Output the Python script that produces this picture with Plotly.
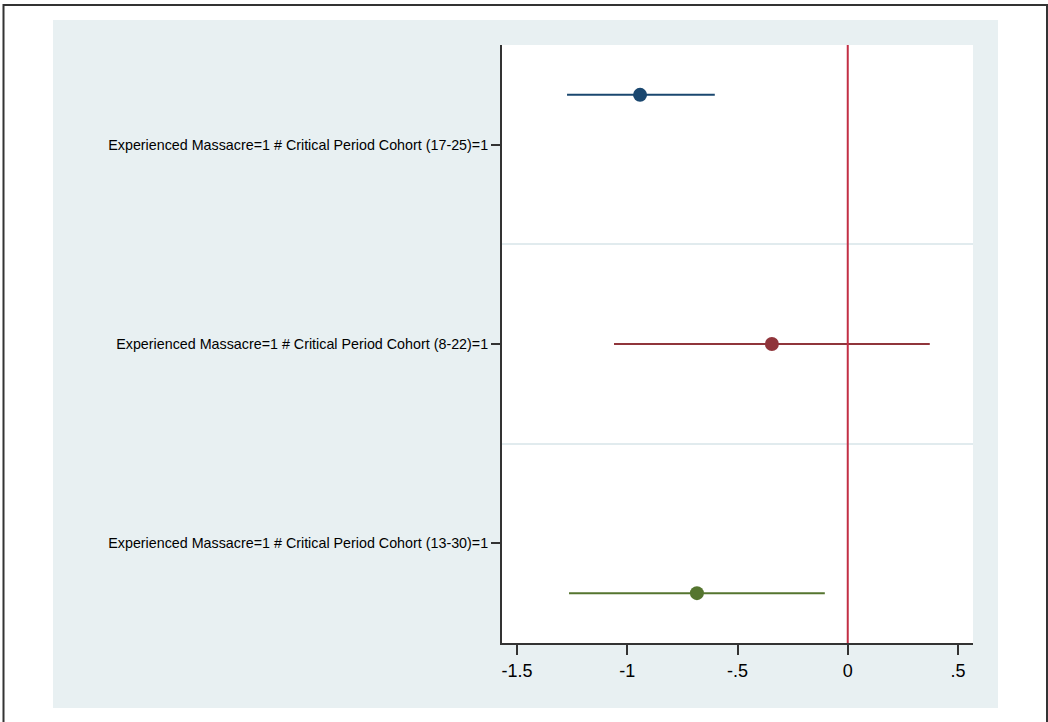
import plotly.graph_objects as go

labels = [
    "Experienced Massacre=1 # Critical Period Cohort (17-25)=1",
    "Experienced Massacre=1 # Critical Period Cohort (8-22)=1",
    "Experienced Massacre=1 # Critical Period Cohort (13-30)=1",
]
cat_pos = [1, 2, 3]
model_offsets = [-0.25, 0.0, 0.25]
estimates = [-0.942, -0.344, -0.684]
ci_low = [-1.273, -1.060, -1.264]
ci_high = [-0.603, 0.372, -0.104]
colors = ["#1a476f", "#90353b", "#55752f"]
x_ticks = [-1.5, -1, -0.5, 0, 0.5]
x_ticktext = ["-1.5", "-1", "-.5", "0", ".5"]

W, H = 1048, 722
L, R, T, B = 502, 973, 45, 643

def px(x):
    return (x - L) / (R - L)

def py(y):
    return (B - y) / (B - T)

fig = go.Figure()
for i in range(3):
    y = cat_pos[i] + model_offsets[i]
    fig.add_trace(go.Scatter(
        x=[estimates[i]], y=[y], mode="markers",
        marker=dict(size=14, color=colors[i]),
        error_x=dict(type="data", symmetric=False,
                     array=[ci_high[i] - estimates[i]],
                     arrayminus=[estimates[i] - ci_low[i]],
                     color=colors[i], thickness=2, width=0),
        showlegend=False,
    ))

shapes = [
    dict(type="rect", xref="paper", yref="paper", x0=px(53), x1=px(998), y0=py(708), y1=py(20),
         fillcolor="#e8f0f2", line=dict(width=0), layer="below"),
    dict(type="rect", xref="paper", yref="paper", x0=0, x1=1, y0=0, y1=1,
         fillcolor="white", line=dict(width=0), layer="below"),
    dict(type="line", xref="x", yref="paper", x0=0, x1=0, y0=0, y1=1,
         line=dict(color="#c22f45", width=2), layer="above"),
    dict(type="rect", xref="paper", yref="paper", x0=px(3.5), x1=px(1047), y0=py(727), y1=py(5),
         fillcolor="rgba(0,0,0,0)", line=dict(color="#333333", width=2), layer="above"),
]

fig.update_layout(
    width=W, height=H,
    margin=dict(l=L, r=W - R, t=T, b=H - B, pad=0),
    paper_bgcolor="white", plot_bgcolor="white",
    font=dict(family="Liberation Sans, Arial, sans-serif", color="#000000"),
    shapes=shapes,
    xaxis=dict(range=[-1.568, 0.568], tickvals=x_ticks, ticktext=x_ticktext,
               showgrid=False, zeroline=False, showline=True, linecolor="#333333", linewidth=2,
               ticks="outside", ticklen=10, tickwidth=1.5, tickcolor="#333333",
               tickfont=dict(size=18)),
    yaxis=dict(range=[3.5, 0.5], tickvals=cat_pos, ticktext=labels,
               showgrid=False, zeroline=False, showline=True, linecolor="#333333", linewidth=2,
               ticks="outside", ticklen=9, tickwidth=1.5, tickcolor="#333333",
               tickfont=dict(size=14.3),
               minor=dict(tickvals=[1.5, 2.5], showgrid=True, gridcolor="#e1ebee", gridwidth=1.5,
                          ticklen=0)),
)

fig.write_html("out.html", config={"displayModeBar": False},
               post_script="document.body.style.margin='0';document.body.style.overflow='hidden';")
